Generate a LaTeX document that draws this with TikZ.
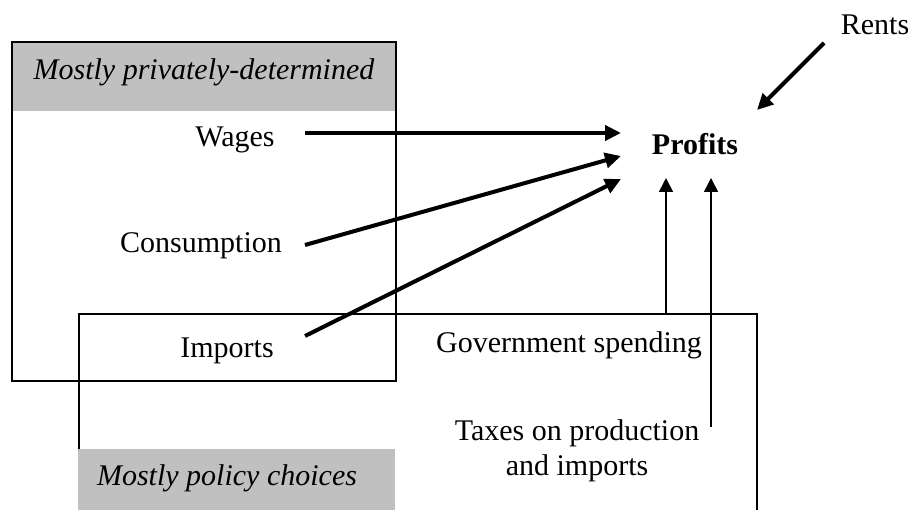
\documentclass[tikz,border=0pt]{standalone}
\usepackage{fontspec}
\setmainfont{Liberation Serif}
\usetikzlibrary{arrows.meta}
\definecolor{bandgray}{RGB}{192,192,192}
\begin{document}
\begin{tikzpicture}[x=1pt,y=-1pt,
  every node/.style={font=\fontsize{30}{34}\selectfont, inner sep=0pt, anchor=base},
  frame/.style={draw=black, line width=1.5pt},
  band/.style={fill=bandgray},
  flow/.style={line width=4pt, -{Triangle[length=16pt,width=15pt]}},
  lift/.style={line width=1.6pt, -{Triangle[length=14pt,width=14pt]}}]
\useasboundingbox (0,0) rectangle (912,510);

% grey heading bands
\fill[band] (12,42) rectangle (396,111);
\fill[band] (78,449) rectangle (395,510);

% privately-determined frame
\draw[frame] (12,42) rectangle (396,381);
% policy frame (open at the bottom)
\draw[frame] (79,449) -- (79,314) -- (757,314) -- (757,510);

% labels (placed by their baselines)
\node (priv) at (204,80) {\itshape Mostly privately-determined};
\node (pol) at (227,485) {\itshape Mostly policy choices};
\node (wages) at (235,147) {Wages};
\node (cons) at (201,253) {Consumption};
\node (imp) at (227,357) {Imports};
\node (gov) at (569,352) {Government spending};
\node (tax) at (577,440) {Taxes on production};
\node (tax2) at (577,475) {and imports};
\node (prof) at (695,155) {\bfseries Profits};
\node (rents) at (875,35) {Rents};

% arrow end points
\coordinate (wS) at (305,133);
\coordinate (wE) at (621,133);
\coordinate (cS) at (305,245);
\coordinate (cE) at (621,156);
\coordinate (iS) at (305,336);
\coordinate (iE) at (621,179);
\coordinate (rS) at (824,43);
\coordinate (rE) at (757,110);
\coordinate (gS) at (666,314);
\coordinate (gE) at (666,178);
\coordinate (tS) at (711,427);
\coordinate (tE) at (711,178);

% flows into profits
\draw[flow] (wS) -- (wE);
\draw[flow] (cS) -- (cE);
\draw[flow] (iS) -- (iE);
\draw[flow] (rS) -- (rE);
\draw[lift] (gS) -- (gE);
\draw[lift] (tS) -- (tE);
\end{tikzpicture}
\end{document}
